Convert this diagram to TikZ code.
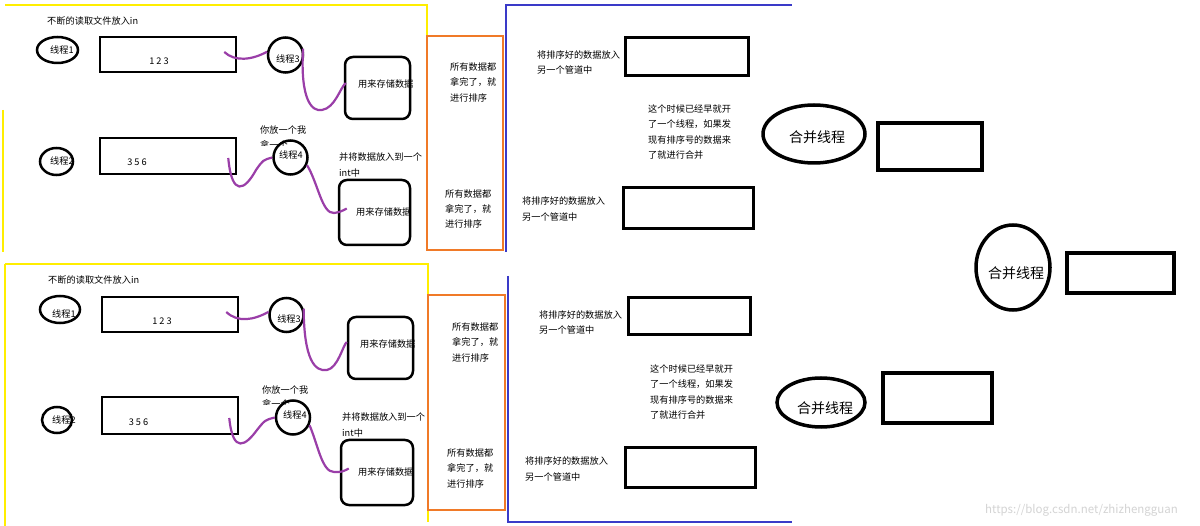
\documentclass[tikz,border=0pt]{standalone}
\usepackage{fontspec}
\setmainfont{Noto Sans CJK SC}
\usetikzlibrary{calc,shapes.geometric}
\definecolor{yel}{HTML}{FFEE00}
\definecolor{org}{HTML}{F07A28}
\definecolor{blu}{HTML}{3A3AC8}
\definecolor{pur}{HTML}{9A3EA8}
\definecolor{wm}{HTML}{D4D4D4}
\begin{document}
\begin{tikzpicture}[x=1pt,y=-1pt,
  txt/.style={font=\fontsize{9.2}{15.4}\selectfont, inner sep=0pt, align=left, anchor=west},
  ctxt/.style={font=\fontsize{9.2}{15.4}\selectfont, inner sep=0pt},
  big/.style={font=\fontsize{14}{16}\selectfont, inner sep=0pt},
  ell/.style={ellipse, draw, line width=2.5pt, inner sep=0pt},
  circ/.style={circle, draw, line width=2.5pt, inner sep=0pt},
  box/.style={draw, line width=2.5pt, inner sep=0pt},
  bbox/.style={draw, line width=3.5pt, inner sep=0pt},
  ell4/.style={ellipse, draw, line width=3.5pt, inner sep=0pt},
  rbox/.style={draw, line width=2.5pt, rounded corners=8pt, inner sep=0pt},
  obox/.style={draw=org, fill=white, line width=2.5pt, inner sep=0pt},
  yline/.style={yel, line width=2.5pt},
  bline/.style={blu, line width=2pt},
  purp/.style={pur, line width=2.2pt}]
\useasboundingbox (0,0) rectangle (1200,526);
\fill[white] (0,0) rectangle (1200,526);

% ===== frames =====
\draw[yline] (5,5) -- (427,5) -- (427,40);
\draw[yline] (3,110) -- (3,252);
\draw[yline] (5,264) -- (428,264) -- (428,522);
\draw[yline] (5,264) -- (5,526);
\node[obox, minimum width=76pt, minimum height=214pt] (o1) at (465,143) {};
\node[obox, minimum width=77pt, minimum height=215pt] (o2) at (466.5,402.5) {};
\draw[bline] (506,252) -- (506,5) -- (792,5);
\draw[bline] (508,276) -- (508,522) -- (792,522);

% ===== top panel =====
\node[txt] (h1) at (47,21) {不断的读取文件放入in};
\node[ell, minimum width=41pt, minimum height=26pt] (e1) at (57.5,50) {};
\node[txt] (e1t) at (50,50) {线程1};
\node[box, minimum width=136pt, minimum height=35pt] (r1) at (168,54.5) {};
\node[ctxt] (r1t) at (159,61) {1 2 3};
\node[circ, minimum size=35pt] (t3) at (285.5,55) {};
\node[ctxt] (t3t) at (288,58.5) {线程3};
\node[rbox, minimum width=65pt, minimum height=62pt] (s1) at (377.5,88) {};
\node[txt] (s1t) at (358,84) {用来存储数据};

\node[ell, minimum width=33pt, minimum height=27pt] (e2) at (56.5,161.5) {};
\node[txt] (e2t) at (50,161) {线程2};
\node[box, minimum width=136pt, minimum height=36pt] (r2) at (168,156) {};
\node[ctxt] (r2t) at (137,162) {3 5 6};
\node[txt] (n1) at (260,130) {你放一个我};
\begin{scope}
\clip (250,136) rectangle (300,145.5);
\node[txt] (n2) at (260,145) {拿一个};
\end{scope}
\node[circ, minimum size=34pt] (t4) at (290.5,157.5) {};
\node[ctxt] (t4t) at (291,155) {线程4};
\node[txt] (n3) at (339,165) {并将数据放入到一个\\int中};
\node[rbox, minimum width=71pt, minimum height=65pt] (s2) at (374.5,212.5) {};
\node[txt] (s2t) at (356,212) {用来存储数据};

\draw[purp] ($(r1.east)+(-13,-2.5)$) .. controls (235,62) and (252,60) .. (t3.170);
\draw[purp] (t3.20) .. controls (300,100) and (312,112) .. (322,110) .. controls (335,108) and (340,88) .. ($(s1.west)+(2,-5)$);
\draw[purp] ($(r2.east)+(-9,2)$) .. controls (232,198) and (245,190) .. (256,170) .. controls (263,160) .. (t4.west);
\draw[purp] (t4.-25) .. controls (318,183) and (322,214) .. (334,213) .. controls (340,212) .. ($(s2.west)+(9,-4)$);

\node[txt] (a1) at (450,82.5) {所有数据都\\拿完了，就\\进行排序};
\node[txt] (a2) at (445,209) {所有数据都\\拿完了，就\\进行排序};
\node[txt] (b1) at (537,62.5) {将排序好的数据放入\\另一个管道中};
\node[box, line width=3pt, minimum width=123pt, minimum height=38pt] (p1) at (686.5,57) {};
\node[txt] (c1) at (648,132) {这个时候已经早就开\\了一个线程，如果发\\现有排序号的数据来\\了就进行合并};
\node[txt] (b2) at (522,209) {将排序好的数据放入\\另一个管道中};
\node[box, line width=3pt, minimum width=130pt, minimum height=41pt] (p2) at (688,208.5) {};

% ===== bottom panel =====
\node[txt] (h2) at (48,280) {不断的读取文件放入in};
\node[ell, minimum width=40pt, minimum height=27pt] (e3) at (60,309.5) {};
\node[txt] (e3t) at (52,314) {线程1};
\node[box, minimum width=136pt, minimum height=35pt] (r3) at (170,314.5) {};
\node[ctxt] (r3t) at (162,321) {1 2 3};
\node[circ, minimum size=34pt] (t5) at (286.5,315) {};
\node[ctxt] (t5t) at (289,319) {线程3};
\node[rbox, minimum width=65pt, minimum height=62pt] (s3) at (380.5,348) {};
\node[txt] (s3t) at (360,344) {用来存储数据};

\node[ell, minimum width=30pt, minimum height=26pt] (e4) at (57,420) {};
\node[txt] (e4t) at (52,420) {线程2};
\node[box, minimum width=136pt, minimum height=37pt] (r4) at (170,415.5) {};
\node[ctxt] (r4t) at (138.5,422) {3 5 6};
\node[txt] (n4) at (262,390) {你放一个我};
\begin{scope}
\clip (250,396) rectangle (300,404.5);
\node[txt] (n5) at (262,404) {拿一个};
\end{scope}
\node[circ, minimum size=34pt] (t6) at (293,417.5) {};
\node[ctxt] (t6t) at (295,415) {线程4};
\node[txt] (n6) at (342,425) {并将数据放入到一个\\int中};
\node[rbox, minimum width=72pt, minimum height=65pt] (s4) at (377,472.5) {};
\node[txt] (s4t) at (358,472) {用来存储数据};

\draw[purp] ($(r3.east)+(-13,-2.5)$) .. controls (238,323) and (254,320) .. (t5.170);
\draw[purp] (t5.20) .. controls (304,360) and (315,372) .. (327,370) .. controls (338,368) and (343,345) .. ($(s3.west)+(0,-6)$);
\draw[purp] ($(r4.east)+(-10,2.5)$) .. controls (233,455) and (246,445) .. (257,430) .. controls (265,420) .. (t6.west);
\draw[purp] (t6.-25) .. controls (318,445) and (322,472) .. (334,472) .. controls (342,472) .. ($(s4.west)+(9,-4)$);

\node[txt] (a3) at (452,342.5) {所有数据都\\拿完了，就\\进行排序};
\node[txt] (a4) at (447,468.5) {所有数据都\\拿完了，就\\进行排序};
\node[txt] (b3) at (539,322.5) {将排序好的数据放入\\另一个管道中};
\node[box, line width=3pt, minimum width=122pt, minimum height=37pt] (p3) at (689,316.5) {};
\node[txt] (c2) at (650,392) {这个时候已经早就开\\了一个线程，如果发\\现有排序号的数据来\\了就进行合并};
\node[txt] (b4) at (525,469) {将排序好的数据放入\\另一个管道中};
\node[box, line width=3pt, minimum width=130pt, minimum height=40pt] (p4) at (690,468) {};

% ===== right side =====
\node[ell4, minimum width=102pt, minimum height=58pt] (m1) at (814,134) {};
\node[big] (m1t) at (817,137) {合并线程};
\node[bbox, minimum width=104pt, minimum height=47pt] (q1) at (930,146.5) {};
\node[ell4, minimum width=74pt, minimum height=85pt] (m2) at (1013,267.5) {};
\node[big] (m2t) at (1016,273) {合并线程};
\node[bbox, minimum width=107pt, minimum height=40pt] (q2) at (1120.5,273) {};
\node[ell4, minimum width=88pt, minimum height=49pt] (m3) at (821,402.5) {};
\node[big] (m3t) at (825,408) {合并线程};
\node[bbox, minimum width=109pt, minimum height=50pt] (q3) at (937.5,398) {};

\node[font=\fontsize{11.5}{13}\selectfont, text=wm, inner sep=0pt, anchor=west] (wmk) at (985,510) {https://blog.csdn.net/zhizhengguan};
\end{tikzpicture}
\end{document}
